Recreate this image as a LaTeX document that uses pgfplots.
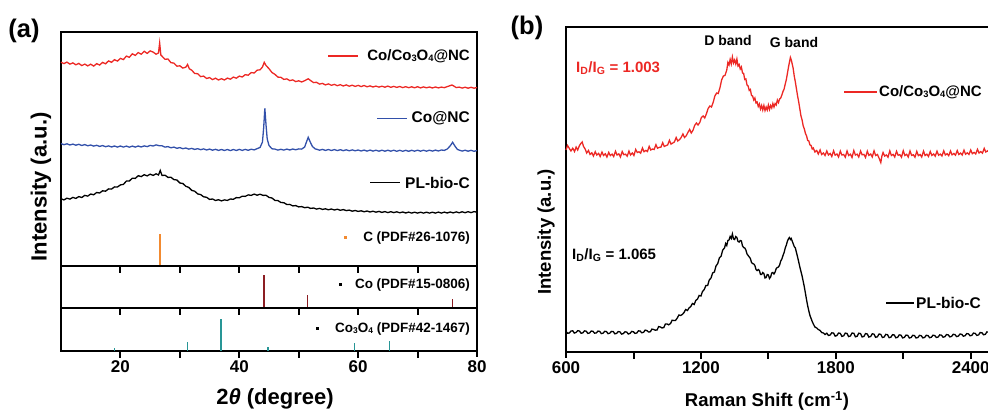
\documentclass[border=0pt]{standalone}
\usepackage{pgfplots}
\pgfplotsset{compat=1.18}
\usepackage{fontspec}
\setmainfont{Liberation Sans}
\definecolor{xred}{RGB}{236,40,36}
\definecolor{xblue}{RGB}{50,80,170}
\definecolor{corange}{RGB}{242,138,48}
\definecolor{codark}{RGB}{140,30,35}
\definecolor{coteal}{RGB}{40,150,150}
\newcommand{\fs}[1]{\fontsize{#1}{#1}\selectfont\bfseries}
\newcommand{\sub}[1]{\raisebox{-0.08em}{\fontsize{0.62em}{0.62em}\selectfont #1}}
\pgfplotsset{
  base/.style={scale only axis, anchor=south west,
    axis line style={line width=1.8pt}, ytick=\empty,
    xtick align=outside, tick pos=left,
    major tick length=6pt, minor tick length=6pt,
    xtick style={draw=black, line width=1.8pt},
    /pgf/number format/assume math mode=true,
    /pgf/number format/1000 sep={},
    ticklabel style={font=\fs{17}},
    clip=false},
  xrd/.style={base, width=416pt, xmin=10, xmax=80, ymin=0,
    xtick={20,40,60,80}, minor xtick={30,50,70}},
}
\begin{document}
\begin{tikzpicture}
\useasboundingbox (0pt,0pt) rectangle (988pt,412pt);
% ---------------- (a) top panel
\begin{axis}[xrd, at={(61pt,146pt)}, height=234pt, ymax=234, xticklabels={}]
\addplot[xred, line width=1.3pt] coordinates {
(10.0,203.8)(10.5,202.4)(11.0,203.9)(11.5,201.9)(12.0,203.1)(12.5,201.2)(13.0,202.6)(13.5,200.4)(14.0,201.9)(14.5,200.1)
(15.0,201.8)(15.5,199.9)(16.0,202.3)(16.5,201.0)(17.0,203.6)(17.5,202.2)(18.0,205.1)(18.5,203.7)(19.0,206.3)(19.5,204.9)
(20.0,207.6)(20.5,206.4)(21.0,209.9)(21.5,208.7)(22.0,212.2)(22.5,210.6)(23.0,213.4)(23.5,211.8)(24.0,214.7)(24.5,212.6)
(25.0,215.1)(25.5,213.9)(26.0,211.8)(26.4,213)(26.6,223)(26.8,211)(27.0,209.8)(27.5,206.7)(28.0,207.0)(28.5,203.3)
(29.0,202.9)(29.5,199.8)(30.0,200.2)(30.5,197.9)(31.0,198.8)(31.3,201.5)(31.6,197.2)(32.0,195.8)(32.5,192.5)(33.0,192.3)
(33.5,189.4)(34.0,189.9)(34.5,187.5)(35.0,188.4)(35.5,186.4)(36.0,187.8)(36.5,186.0)(37.0,187.3)(37.5,186.0)(38.0,187.9)
(38.5,186.8)(39.0,188.9)(39.5,187.8)(40.0,189.9)(40.5,189.0)(41.0,191.3)(41.5,190.8)(42.0,193.4)(42.5,193.0)(43.0,195.8)
(43.5,196.2)(43.9,199)(44.2,203.7)(44.5,200.5)(45.0,197.3)(45.5,193.5)(46.0,191.6)(46.5,188.9)(47.0,188.7)(47.5,186.6)
(48.0,187.1)(48.5,185.4)(49.0,186.1)(49.5,184.4)(50.0,185.2)(50.5,184.0)(51.0,185.3)(51.6,187.2)(52.2,184.6)(52.5,183.4)
(53.0,183.7)(53.5,181.9)(54.0,182.6)(54.5,181.1)(55.0,182.1)(55.5,180.7)(56.0,181.6)(56.5,180.3)(57.0,181.3)(57.5,180.0)
(58.0,181.1)(58.5,179.8)(59.0,180.8)(59.5,179.6)(60.0,180.6)(60.5,179.4)(61.0,180.5)(61.5,179.2)(62.0,180.1)(62.5,179.0)
(63.0,179.9)(63.5,178.9)(64.0,179.8)(64.5,178.8)(65.0,179.9)(65.5,178.7)(66.0,179.6)(66.5,178.6)(67.0,179.5)(67.5,178.4)
(68.0,179.3)(68.5,178.3)(69.0,179.2)(69.5,178.2)(70.0,179.3)(70.5,178.1)(71.0,179.1)(71.5,178.2)(72.0,179.0)(72.5,178.0)
(73.0,179.0)(73.5,178.1)(74.0,178.9)(74.5,178.3)(75.0,179.4)(75.5,180.4)(75.8,181.0)(76.2,179.6)(76.5,178.4)(77.0,178.9)
(77.5,177.9)(78.0,178.8)(78.5,177.8)(79.0,178.7)(79.5,177.8)(80.0,178.5)};
\addplot[xblue, line width=1.3pt] coordinates {
(10.0,122.4)(10.5,121.3)(11.0,122.2)(11.5,121.0)(12.0,121.9)(12.5,120.8)(13.0,121.7)(13.5,120.5)(14.0,121.4)(14.5,120.2)
(15.0,121.0)(15.5,119.9)(16.0,120.7)(16.5,119.6)(17.0,120.4)(17.5,119.3)(18.0,120.1)(18.5,119.0)(19.0,120.0)(19.5,118.9)
(20.0,120.0)(20.5,118.9)(21.0,119.9)(21.5,118.8)(22.0,119.9)(22.5,118.9)(23.0,120.0)(23.5,119.0)(24.0,120.1)(24.5,119.4)
(25.0,120.6)(25.5,120.0)(26.0,121.1)(26.5,120.3)(27.0,120.2)(27.5,118.9)(28.0,119.4)(28.5,118.2)(29.0,118.9)(29.5,117.7)
(30.0,118.4)(30.5,117.3)(31.0,118.0)(31.5,116.9)(32.0,117.6)(32.5,116.6)(33.0,117.3)(33.5,116.3)(34.0,117.1)(34.5,116.0)
(35.0,116.9)(35.5,115.8)(36.0,116.7)(36.5,115.6)(37.0,116.5)(37.5,115.5)(38.0,116.5)(38.5,115.4)(39.0,116.5)(39.5,115.5)
(40.0,116.6)(40.5,115.6)(41.0,116.6)(41.5,115.7)(42.0,116.8)(42.5,116.1)(43.0,117.3)(43.5,118.6)(43.9,124)(44.1,138)
(44.3,157.7)(44.5,141)(44.7,127)(45.0,120.5)(45.5,117.2)(46.0,116.9)(46.5,115.9)(47.0,116.7)(47.5,115.9)(48.0,116.9)
(48.5,116.0)(49.0,117.0)(49.5,116.2)(50.0,117.1)(50.5,116.9)(51.0,119.0)(51.3,124.0)(51.6,128.7)(51.9,124.5)(52.3,119.5)
(52.8,117.0)(53.0,116.8)(53.5,115.8)(54.0,116.6)(54.5,115.6)(55.0,116.5)(55.5,115.5)(56.0,116.4)(56.5,115.4)(57.0,116.3)
(57.5,115.3)(58.0,116.2)(58.5,115.2)(59.0,116.1)(59.5,115.2)(60.0,116.0)(60.5,115.0)(61.0,115.9)(61.5,114.9)(62.0,115.9)
(62.5,114.9)(63.0,115.8)(63.5,114.8)(64.0,115.8)(64.5,114.8)(65.0,115.8)(65.5,114.8)(66.0,115.8)(66.5,114.7)(67.0,115.7)
(67.5,114.7)(68.0,115.7)(68.5,114.7)(69.0,115.7)(69.5,114.8)(70.0,115.8)(70.5,114.8)(71.0,115.8)(71.5,114.8)(72.0,115.8)
(72.5,114.9)(73.0,115.9)(73.5,115.0)(74.0,116.0)(74.5,115.6)(75.0,117.0)(75.5,120.2)(75.9,123.7)(76.3,119.8)(76.7,116.6)
(77.0,115.9)(77.5,114.9)(78.0,115.8)(78.5,114.8)(79.0,115.7)(79.5,114.7)(80.0,115.5)};
\addplot[black, line width=1.3pt] coordinates {
(10.0,67.3)(10.5,66.1)(11.0,67.8)(11.5,66.9)(12.0,68.6)(12.5,67.6)(13.0,69.4)(13.5,68.5)(14.0,70.6)(14.5,69.9)
(15.0,72.0)(15.5,71.2)(16.0,73.5)(16.5,73.0)(17.0,75.2)(17.5,74.8)(18.0,77.1)(18.5,76.9)(19.0,79.1)(19.5,79.0)
(20.0,81.1)(20.5,81.6)(21.0,84.9)(21.5,85.0)(22.0,87.8)(22.5,87.6)(23.0,90.3)(23.5,89.4)(24.0,91.3)(24.5,90.1)
(25.0,91.8)(25.5,90.6)(26.0,92.2)(26.4,91.0)(26.7,95.5)(27.0,90.5)(27.5,90.8)(28.0,88.6)(28.5,88.7)(29.0,86.4)
(29.5,86.0)(30.0,83.0)(30.5,82.5)(31.0,79.7)(31.5,78.6)(32.0,75.6)(32.5,74.8)(33.0,72.1)(33.5,71.4)(34.0,69.2)
(34.5,68.7)(35.0,66.6)(35.5,67.0)(36.0,65.5)(36.5,66.3)(37.0,65.1)(37.5,66.1)(38.0,65.6)(38.5,67.0)(39.0,66.7)
(39.5,68.4)(40.0,68.2)(40.5,69.8)(41.0,69.6)(41.5,71.1)(42.0,70.6)(42.5,71.9)(43.0,70.8)(43.5,71.8)(44.0,70.6)
(44.5,70.7)(45.0,68.6)(45.5,68.0)(46.0,65.6)(46.5,65.4)(47.0,63.5)(47.5,63.3)(48.0,61.5)(48.5,61.6)(49.0,60.1)
(49.5,60.4)(50.0,59.1)(50.5,59.4)(51.0,58.3)(51.5,58.8)(52.0,57.6)(52.5,58.0)(53.0,56.9)(53.5,57.6)(54.0,56.6)
(54.5,57.2)(55.0,56.2)(55.5,57.0)(56.0,56.0)(56.5,56.8)(57.0,55.7)(57.5,56.4)(58.0,55.4)(58.5,55.9)(59.0,54.8)
(59.5,55.5)(60.0,54.6)(60.5,55.2)(61.0,54.2)(61.5,55.0)(62.0,54.0)(62.5,54.8)(63.0,53.8)(63.5,54.6)(64.0,53.6)
(64.5,54.4)(65.0,53.4)(65.5,54.3)(66.0,53.4)(66.5,54.2)(67.0,53.2)(67.5,54.0)(68.0,53.0)(68.5,53.9)(69.0,52.9)
(69.5,53.8)(70.0,52.9)(70.5,53.8)(71.0,52.9)(71.5,53.8)(72.0,52.9)(72.5,53.8)(73.0,52.9)(73.5,53.9)(74.0,52.9)
(74.5,53.9)(75.0,53.0)(75.5,54.0)(76.0,53.1)(76.5,54.1)(77.0,53.2)(77.5,54.2)(78.0,53.3)(78.5,54.3)(79.0,53.4)
(79.5,54.4)(80.0,53.8)};
\addplot[ycomb, corange, line width=1.7pt, no marks] coordinates {(26.6,32)};
\end{axis}
% ---------------- (a) Co panel
\begin{axis}[xrd, at={(61pt,104pt)}, height=42pt, ymax=42, xticklabels={}]
\addplot[ycomb, codark, line width=1.7pt, no marks] coordinates {(44.2,33)(51.5,13.3)(75.9,8.7)};
\end{axis}
% ---------------- (a) Co3O4 panel
\begin{axis}[xrd, at={(61pt,61pt)}, height=43pt, ymax=43]
\addplot[ycomb, coteal, line width=1.7pt, no marks] coordinates {(19.0,3.3)(31.3,9)(36.9,32.3)(44.8,4.3)(59.4,8.3)(65.3,10.3)};
\end{axis}
% ---------------- (b) Raman
\begin{axis}[base, at={(566pt,60pt)}, width=449.7pt, height=325pt,
  xmin=600, xmax=2600, ymin=0, ymax=325,
  xtick={600,1200,1800,2400}, minor xtick={900,1500,2100}]
\addplot[xred, line width=1.3pt] coordinates {
(600,202.0)(607,206.5)(615,203.5)(622,201.0)(630,203.8)(638,200.5)(645,204.9)(652,202.0)(660,206.5)(666,208.5)(672,210.0)(678,205.5)(685,203.0)(692,199.0)(700,201.5)(707,197.5)(715,199.2)(722,196.0)(730,200.3)(737,197.0)
(745,198.6)(752,195.5)(760,199.9)(767,196.5)(775,198.2)(782,195.0)(790,199.6)(797,196.4)(805,197.9)(812,195.5)(820,200.8)(827,197.0)(835,198.1)(842,195.0)(850,200.5)(857,197.3)(865,197.8)(872,195.8)(880,200.9)(887,197.0)
(895,199.0)(902,196.5)(910,202.6)(917,199.5)(925,200.2)(932,198.8)(940,204.0)(947,200.3)(955,201.6)(962,200.5)(970,205.6)(977,202.0)(985,203.0)(992,202.5)(1000,207.3)(1007,203.8)(1015,204.6)(1022,204.8)(1030,209.3)(1037,205.5)
(1045,206.4)(1052,207.0)(1060,211.7)(1067,207.9)(1075,209.0)(1082,210.0)(1090,214.5)(1097,211.0)(1105,212.4)(1112,214.5)(1120,218.0)(1127,214.5)(1135,216.3)(1142,219.5)(1150,222.6)(1157,219.0)(1165,221.8)(1172,226.5)(1180,229.0)(1187,227.0)
(1195,229.5)(1202,234.5)(1210,236.0)(1217,234.0)(1225,238.5)(1232,243.5)(1240,246.0)(1247,245.0)(1255,250.0)(1262,256.0)(1270,259.0)(1277,258.5)(1285,264.5)(1292,272.0)(1300,276.0)(1307,276.5)(1315,282.0)(1320,289.5)(1325,287.0)(1330,292.5)
(1335,288.0)(1340,295.0)(1345,289.0)(1350,292.0)(1355,288.0)(1360,293.0)(1365,286.0)(1370,287.5)(1375,283.0)(1380,285.0)(1385,279.0)(1390,278.5)(1395,272.5)(1400,273.0)(1405,267.0)(1410,266.0)(1415,261.5)(1420,262.5)(1425,256.5)(1430,256.0)
(1435,252.0)(1440,254.0)(1445,249.0)(1450,250.0)(1455,245.5)(1460,248.0)(1465,243.0)(1470,246.5)(1475,242.0)(1480,246.5)(1485,241.5)(1490,245.0)(1495,242.0)(1500,247.0)(1505,242.5)(1510,246.5)(1515,244.0)(1520,248.5)(1525,245.0)(1530,248.5)
(1535,247.0)(1540,252.0)(1545,249.5)(1550,253.0)(1555,254.0)(1560,257.0)(1565,260.5)(1570,263.0)(1575,268.0)(1580,272.5)(1585,279.0)(1590,285.5)(1594,290.0)(1598,294.5)(1602,292.0)(1605,289.0)(1610,284.0)(1615,276.0)(1620,270.0)(1625,263.0)
(1630,256.0)(1635,250.0)(1640,243.0)(1645,236.0)(1650,232.0)(1655,226.0)(1660,223.0)(1665,218.5)(1670,216.0)(1675,211.5)(1680,211.0)(1685,207.0)(1690,206.5)(1695,203.0)(1700,204.0)(1707,200.0)(1715,201.5)(1722,198.0)(1730,202.0)(1737,197.5)
(1745,199.0)(1752,196.5)(1760,201.0)(1767,197.0)(1775,198.5)(1782,195.5)(1790,201.2)(1797,196.8)(1805,198.0)(1812,195.0)(1820,200.9)(1827,197.0)(1835,197.5)(1842,194.8)(1850,201.0)(1857,196.5)(1865,197.8)(1872,194.5)(1880,201.4)(1887,197.0)
(1895,197.8)(1902,195.0)(1910,201.0)(1917,197.2)(1925,197.6)(1932,194.6)(1940,200.8)(1947,196.6)(1955,198.0)(1962,195.0)(1970,201.2)(1977,196.5)(1985,197.5)(1992,194.0)(2000,189.5)(2005,196.0)(2010,199.5)(2017,196.0)(2025,197.0)(2032,194.8)
(2040,201.1)(2047,196.5)(2055,197.6)(2062,195.0)(2070,200.7)(2077,196.8)(2085,197.3)(2092,194.8)(2100,201.3)(2107,196.5)(2115,197.7)(2122,195.0)(2130,201.0)(2137,196.6)(2145,197.2)(2152,194.8)(2160,200.6)(2167,196.4)(2175,197.5)(2182,195.0)
(2190,200.9)(2197,196.5)(2205,197.8)(2212,195.5)(2220,200.5)(2227,196.6)(2235,198.0)(2242,195.8)(2250,200.8)(2257,196.8)(2265,197.9)(2272,196.0)(2280,201.2)(2287,197.0)(2295,198.3)(2302,196.3)(2310,201.0)(2317,197.2)(2325,198.5)(2332,196.8)
(2340,201.4)(2347,197.5)(2355,198.9)(2362,197.0)(2370,201.8)(2377,197.8)(2385,199.2)(2392,197.5)(2400,202.0)(2407,198.3)(2415,199.6)(2422,198.0)(2430,202.7)(2437,199.0)(2445,200.4)(2452,198.8)(2460,203.6)(2467,200.0)(2475,201.2)(2482,199.5)
(2490,204.0)(2497,200.5)(2505,202.5)(2512,200.8)(2520,204.5)};
\addplot[black, line width=1.3pt] coordinates {
(600,20.5)(607,18.8)(615,19.0)(622,21.0)(630,21.2)(637,18.9)(645,19.6)(652,21.3)(660,21.0)(667,18.7)(675,19.2)(682,21.1)(690,20.8)(697,18.6)(705,19.0)(712,21.0)(720,20.7)(727,18.8)(735,19.1)(742,20.9)
(750,20.6)(757,18.4)(765,18.8)(772,20.7)(780,20.4)(787,18.3)(795,18.9)(802,20.6)(810,20.5)(817,18.2)(825,18.6)(832,20.4)(840,20.1)(847,17.9)(855,18.4)(862,20.2)(870,19.9)(877,18.0)(885,18.6)(892,20.6)
(900,20.2)(907,18.6)(915,19.0)(922,21.2)(930,20.9)(937,19.2)(945,19.7)(952,21.9)(960,21.4)(967,20.0)(975,20.2)(982,22.9)(990,22.5)(997,21.8)(1005,22.0)(1012,25.4)(1020,25.0)(1027,24.0)(1035,24.5)(1042,28.0)
(1050,28.0)(1057,27.2)(1065,28.5)(1072,31.8)(1080,31.5)(1087,31.5)(1095,34.0)(1102,37.0)(1110,36.5)(1117,37.5)(1125,39.5)(1132,42.5)(1140,41.5)(1147,44.0)(1155,45.5)(1162,48.5)(1170,47.5)(1177,51.5)(1185,53.0)(1192,56.5)
(1200,56.0)(1207,60.5)(1215,62.5)(1222,66.5)(1230,66.5)(1237,72.0)(1245,74.0)(1252,79.0)(1260,80.0)(1267,86.0)(1275,88.5)(1282,94.0)(1290,96.0)(1297,102.0)(1305,104.0)(1310,108.5)(1315,106.5)(1320,111.5)(1325,112.0)(1330,115.5)
(1335,113.5)(1340,118.0)(1345,113.0)(1350,112.5)(1355,115.5)(1360,114.5)(1365,110.5)(1370,110.0)(1375,111.5)(1380,111.0)(1385,106.0)(1390,104.5)(1395,104.0)(1400,102.0)(1405,98.0)(1410,96.5)(1415,95.0)(1420,93.5)(1425,89.5)(1430,88.5)
(1435,88.0)(1440,86.5)(1445,82.5)(1450,81.5)(1455,82.5)(1460,81.5)(1465,77.5)(1470,77.5)(1475,79.5)(1480,78.5)(1485,74.0)(1490,74.5)(1495,77.5)(1500,77.0)(1505,73.5)(1510,75.0)(1515,79.0)(1520,79.5)(1525,78.0)(1530,80.0)
(1535,83.5)(1540,84.5)(1545,85.0)(1550,87.0)(1555,91.0)(1560,93.0)(1565,96.5)(1570,99.5)(1575,104.0)(1580,107.0)(1585,111.0)(1590,113.5)(1594,114.5)(1598,112.5)(1602,113.5)(1605,111.5)(1610,108.5)(1615,105.5)(1620,104.0)(1625,99.5)
(1630,95.0)(1635,90.0)(1640,85.0)(1645,80.5)(1650,76.0)(1655,70.5)(1660,65.0)(1665,58.5)(1670,52.0)(1675,46.0)(1680,41.0)(1685,36.5)(1690,33.5)(1695,30.5)(1700,28.0)(1707,25.0)(1715,24.0)(1722,22.5)(1730,21.5)(1737,19.5)
(1745,19.0)(1752,17.5)(1760,18.8)(1767,16.5)(1775,17.0)(1782,19.2)(1790,18.9)(1797,15.9)(1805,16.5)(1812,19.0)(1820,18.6)(1827,15.6)(1835,16.2)(1842,18.9)(1850,18.5)(1857,15.4)(1865,16.0)(1872,19.0)(1880,18.7)(1887,15.2)
(1895,15.8)(1902,18.8)(1910,18.4)(1917,15.0)(1925,15.6)(1932,18.4)(1940,18.0)(1947,14.9)(1955,15.5)(1962,18.2)(1970,17.8)(1977,14.7)(1985,15.2)(1992,18.0)(2000,17.6)(2007,14.5)(2015,15.0)(2022,17.6)(2030,17.3)(2037,14.3)
(2045,14.8)(2052,17.3)(2060,17.0)(2067,14.2)(2075,14.7)(2082,17.1)(2090,16.8)(2097,14.1)(2105,14.6)(2112,16.9)(2120,16.6)(2127,14.0)(2135,14.5)(2142,16.7)(2150,16.4)(2157,14.0)(2165,14.5)(2172,16.6)(2180,16.3)(2187,14.1)
(2195,14.6)(2202,16.7)(2210,16.4)(2217,14.3)(2225,14.8)(2232,16.8)(2240,16.5)(2247,14.5)(2255,15.0)(2262,17.1)(2270,16.8)(2277,14.8)(2285,15.3)(2292,17.4)(2300,17.1)(2307,15.1)(2315,15.6)(2322,17.7)(2330,17.4)(2337,15.4)
(2345,15.9)(2352,18.0)(2360,17.7)(2367,15.8)(2375,16.3)(2382,18.4)(2390,18.1)(2397,16.2)(2405,16.7)(2412,18.9)(2420,18.6)(2427,16.6)(2435,17.1)(2442,19.5)(2450,19.2)(2457,17.2)(2465,17.7)(2472,20.1)(2480,19.8)(2487,17.9)
(2495,18.4)(2502,20.8)(2510,20.5)(2517,18.5)(2525,19.0)};
\end{axis}
\begin{scope}[x=1pt,y=1pt]
% ---------------- tick marks below each frame line
\foreach \yy in {146,104} {\foreach \xx in {120.4,179.9,239.3,298.7,358.1,417.6} {\draw[line width=2pt, black] (\xx,\yy) -- (\xx,\yy-7);}}
\foreach \xx in {120.4,179.9,239.3,298.7,358.1,417.6} {\draw[line width=2pt, black] (\xx,61) -- (\xx,54);}
\foreach \xx in {633.5,700.9,768.4,835.8,903.3,970.8} {\draw[line width=2pt, black] (\xx,60) -- (\xx,53);}
% ---------------- annotations (a)
\node[font=\fs{25.5}] at (24,381) {(a)};
\node[font=\fs{22}, rotate=90] at (41,225) {Intensity (a.u.)};
\node[font=\fs{22}] at (275,13) {2{\itshape θ} (degree)};
\draw[xred, line width=1.3pt] (328,356) -- (358,356);
\node[font=\fs{15}, anchor=east, inner sep=0] at (470,356) {Co/Co\sub{3}O\sub{4}@NC};
\draw[xblue, line width=1.3pt] (377,293.5) -- (407,293.5);
\node[font=\fs{15.5}, anchor=east, inner sep=0] at (470,293.5) {Co@NC};
\draw[black, line width=1.3pt] (370,229.5) -- (400,229.5);
\node[font=\fs{15.5}, anchor=east, inner sep=0] at (470,229.5) {PL-bio-C};
\fill[corange] (344,173) rectangle (346.5,175.5);
\node[font=\fs{13.5}, anchor=east, inner sep=0] at (470,174) {C (PDF\#26-1076)};
\fill[black] (339,126) rectangle (341.5,128.5);
\node[font=\fs{13.5}, anchor=east, inner sep=0] at (470,127) {Co (PDF\#15-0806)};
\fill[black] (316,82) rectangle (318.5,84.5);
\node[font=\fs{13.5}, anchor=east, inner sep=0] at (470,83) {Co\sub{3}O\sub{4} (PDF\#42-1467)};
% ---------------- annotations (b)
\node[font=\fs{25.5}] at (527,384) {(b)};
\node[font=\fs{18.5}, rotate=90] at (546,180) {Intensity (a.u.)};
\node[font=\fs{18.5}] at (767,11) {Raman Shift (cm\textsuperscript{-1})};
\node[font=\fs{14}] at (728,371.5) {D band};
\node[font=\fs{14}] at (794,369) {G band};
\node[font=\fs{15}, text=xred, anchor=west, inner sep=0] at (576,344) {I\textsubscript{D}/I\textsubscript{G} = 1.003};
\node[font=\fs{15}, anchor=west, inner sep=0] at (572,157) {I\textsubscript{D}/I\textsubscript{G} = 1.065};
\draw[xred, line width=1.3pt] (844,320) -- (877,320);
\node[font=\fs{15}, anchor=west, inner sep=0] at (879,320) {Co/Co\sub{3}O\sub{4}@NC};
\draw[black, line width=1.3pt] (886,109) -- (914,109);
\node[font=\fs{15.5}, anchor=west, inner sep=0] at (916,109) {PL-bio-C};
\end{scope}
\end{tikzpicture}
\end{document}
